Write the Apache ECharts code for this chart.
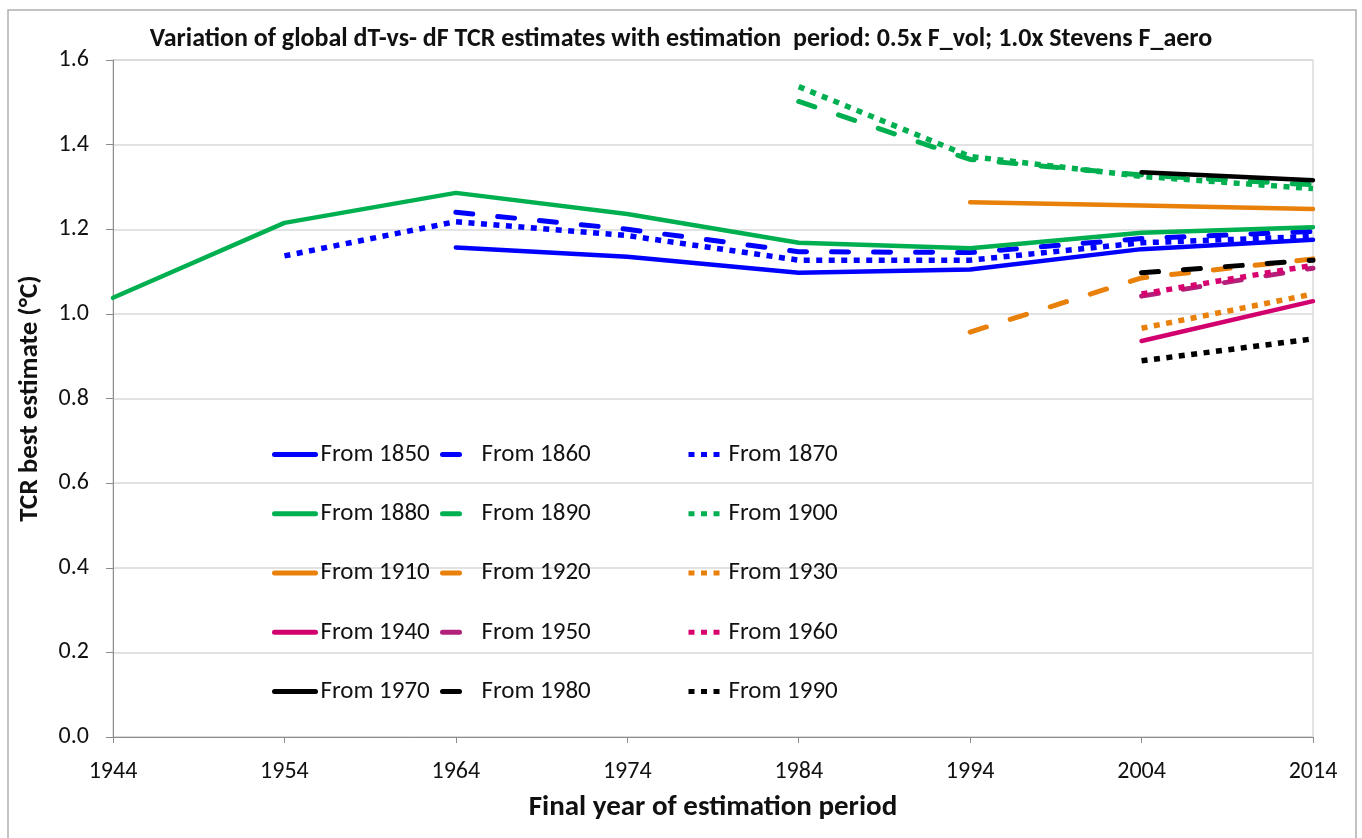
<!DOCTYPE html>
<html>
<head>
<meta charset="utf-8">
<script src="https://cdn.jsdelivr.net/npm/echarts@6/dist/echarts.min.js"></script>
<style>
html,body{margin:0;padding:0;background:#fff;}
#chart{width:1362px;height:838px;}
</style>
</head>
<body>
<div id="chart"></div>
<script>
const years = ['1944','1954','1964','1974','1984','1994','2004','2014'];
const yTicks = [0, 0.2, 0.4, 0.6, 0.8, 1.0, 1.2, 1.4, 1.6];

const from1850 = [null, null, 1.157, 1.135, 1.097, 1.105, 1.153, 1.175];
const from1860 = [null, null, 1.240, 1.200, 1.147, 1.145, 1.178, 1.195];
const from1870 = [null, 1.137, 1.218, 1.185, 1.127, 1.127, 1.168, 1.183];
const from1880 = [1.038, 1.215, 1.286, 1.236, 1.168, 1.155, 1.192, 1.205];
const from1890 = [null, null, null, null, 1.502, 1.365, 1.328, 1.305];
const from1900 = [null, null, null, null, 1.537, 1.372, 1.325, 1.296];
const from1910 = [null, null, null, null, null, 1.264, 1.256, 1.248];
const from1920 = [null, null, null, null, null, 0.957, 1.085, 1.130];
const from1930 = [null, null, null, null, null, null, 0.966, 1.047];
const from1940 = [null, null, null, null, null, null, 0.936, 1.030];
const from1950 = [null, null, null, null, null, null, 1.042, 1.108];
const from1960 = [null, null, null, null, null, null, 1.047, 1.115];
const from1970 = [null, null, null, null, null, null, 1.335, 1.316];
const from1980 = [null, null, null, null, null, null, 1.097, 1.127];
const from1990 = [null, null, null, null, null, null, 0.889, 0.941];

const FONT = "Carlito, Lato, 'Liberation Sans', sans-serif";
const TXT = '#111111';

const DASH = [17, 25];
const DOT = [6, 6.5];

function mk(name, data, color, kind) {
  const ls = { color: color, width: 5 };
  if (kind === 'solid') { ls.type = 'solid'; ls.cap = 'round'; ls.width = 4.5; }
  if (kind === 'dash') { ls.type = DASH; ls.cap = 'round'; }
  if (kind === 'dot') { ls.type = DOT; ls.cap = 'butt'; ls.width = 5.5; }
  return {
    name: name, type: 'line', data: data, showSymbol: false, symbol: 'circle', symbolSize: 0,
    connectNulls: false, lineStyle: ls, itemStyle: { color: color },
    emphasis: { disabled: true }, animation: false, z: 3
  };
}

const BLUE = '#0000FF', GREEN = '#00B050', ORANGE = '#E8800A',
      MAG = '#D2006E', MAG2 = '#B3207A', MAG3 = '#D6006E', BLACK = '#000000';

const series = [
  mk('From 1850', from1850, BLUE, 'solid'),
  mk('From 1860', from1860, BLUE, 'dash'),
  mk('From 1870', from1870, BLUE, 'dot'),
  mk('From 1880', from1880, GREEN, 'solid'),
  mk('From 1890', from1890, GREEN, 'dash'),
  mk('From 1900', from1900, GREEN, 'dot'),
  mk('From 1910', from1910, ORANGE, 'solid'),
  mk('From 1920', from1920, ORANGE, 'dash'),
  mk('From 1930', from1930, ORANGE, 'dot'),
  mk('From 1940', from1940, MAG, 'solid'),
  mk('From 1950', from1950, MAG2, 'dash'),
  mk('From 1960', from1960, MAG3, 'dot'),
  mk('From 1970', from1970, BLACK, 'solid'),
  mk('From 1980', from1980, BLACK, 'dash'),
  mk('From 1990', from1990, BLACK, 'dot')
];

function legendCol(names, left, itemWidth) {
  return {
    data: names, orient: 'vertical', left: left, top: 442,
    itemWidth: itemWidth, itemHeight: 22, itemGap: 34.25,
    textStyle: { fontFamily: FONT, fontSize: 25, color: TXT, lineHeight: 23 },
    lineStyle: { width: 5 },
    itemStyle: { opacity: 0, borderWidth: 0 },
    selectedMode: false, padding: 0
  };
}

const chart = echarts.init(document.getElementById('chart'), null, { renderer: 'canvas' });
chart.setOption({
  backgroundColor: '#fff',
  animation: false,
  title: {
    text: 'Variation of global dT-vs- dF TCR estimates with estimation  period: 0.5x F_vol; 1.0x Stevens F_aero',
    left: 'center', top: 21,
    textStyle: { fontFamily: FONT, fontSize: 26, fontWeight: 'bold', color: TXT }
  },
  graphic: [{
    type: 'rect', shape: { x: 8, y: 10, width: 1348, height: 840 },
    style: { fill: 'none', stroke: '#b0b0b0', lineWidth: 1.5 }, silent: true, z: 0
  }],
  legend: [
    legendCol(['From 1850','From 1880','From 1910','From 1940','From 1970'], 272, 41),
    legendCol(['From 1860','From 1890','From 1920','From 1950','From 1980'], 440, 34),
    legendCol(['From 1870','From 1900','From 1930','From 1960','From 1990'], 686, 35)
  ],
  grid: { left: 113, right: 49, top: 60, bottom: 101, show: true, borderColor: '#c8c8c8', borderWidth: 1, containLabel: false },
  xAxis: {
    type: 'category', data: years, boundaryGap: false,
    name: 'Final year of estimation period', nameLocation: 'middle', nameGap: 56,
    nameTextStyle: { fontFamily: FONT, fontSize: 29, fontWeight: 'bold', color: TXT },
    axisLine: { show: true, lineStyle: { color: '#8c8c8c', width: 1 } },
    axisTick: { show: true, alignWithLabel: true, length: 6, inside: false, lineStyle: { color: '#8c8c8c' } },
    axisLabel: { fontFamily: FONT, fontSize: 24, color: TXT, margin: 23 },
    splitLine: { show: false }
  },
  yAxis: {
    type: 'value', min: 0, max: 1.6, interval: 0.2,
    name: 'TCR best estimate (°C)', nameLocation: 'middle', nameGap: 69,
    nameTextStyle: { fontFamily: FONT, fontSize: 27, fontWeight: 'bold', color: TXT },
    axisLine: { show: true, lineStyle: { color: '#8c8c8c', width: 1 } },
    axisTick: { show: true, length: 7, lineStyle: { color: '#8c8c8c' } },
    axisLabel: { fontFamily: FONT, fontSize: 24, color: TXT, margin: 24,
      formatter: function (v) { return v.toFixed(1); } },
    splitLine: { show: true, lineStyle: { color: '#d9d9d9', width: 1.5 } }
  },
  series: series
});
</script>
</body>
</html>
